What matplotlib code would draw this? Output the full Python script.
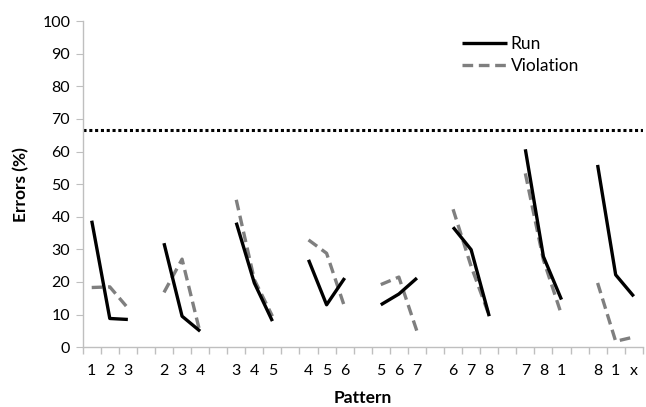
import numpy as np
import matplotlib.pyplot as plt
from matplotlib.ticker import FixedLocator

plt.rcParams['font.family'] = ['Lato', 'DejaVu Sans']

# patterns shown as groups of three positions
grupos = [['1', '2', '3'], ['2', '3', '4'], ['3', '4', '5'], ['4', '5', '6'],
          ['5', '6', '7'], ['6', '7', '8'], ['7', '8', '1'], ['8', '1', 'x']]

run = [[38.8, 8.8, 8.5], [31.9, 9.5, 4.9], [38.2, 19.7, 8.0], [26.8, 13.0, 21.2],
       [13.0, 16.3, 21.2], [36.8, 29.9, 9.5], [60.7, 27.8, 14.6], [55.9, 22.2, 15.6]]

violacion = [[18.3, 18.5, 12.0], [16.8, 27.0, 4.4], [45.2, 20.7, 9.5], [32.9, 28.8, 12.3],
             [19.2, 21.5, 4.9], [42.3, 24.8, 9.7], [53.3, 26.8, 10.0], [19.7, 1.8, 3.1]]

azar = 66.7

fig = plt.figure(figsize=(6.46, 4.07), dpi=100)
ax = fig.add_axes([0.128, 0.147, 0.867, 0.801])

gris = '#7f7f7f'
posiciones, etiquetas = [], []
for g in range(len(grupos)):
    x = np.arange(3) + 4 * g + 0.5
    posiciones.extend(x)
    etiquetas.extend(grupos[g])
    ax.plot(x, run[g], color='black', lw=2.4, solid_capstyle='butt',
            label='Run' if g == 0 else None, zorder=3)
    ax.plot(x, violacion[g], color=gris, lw=2.4, ls=(0, (3.2, 1.7)),
            label='Violation' if g == 0 else None, zorder=2)

n_slots = 4 * len(grupos) - 1
ax.axhline(azar, color='black', lw=2.2, ls=(0, (1, 0.9)), zorder=1)

ax.set_xlim(0, n_slots)
ax.set_ylim(0, 100)
ax.set_yticks(np.arange(0, 101, 10))
ax.set_xticks(posiciones)
ax.set_xticklabels(etiquetas, fontsize=11.5)
ax.xaxis.set_minor_locator(FixedLocator(np.arange(0, n_slots + 1)))
ax.tick_params(axis='x', which='major', length=0, pad=12)
ax.tick_params(axis='x', which='minor', length=5, color='#bfbfbf', width=1)
ax.tick_params(axis='y', length=5, color='#bfbfbf', labelsize=11.5, pad=4)

for lado in ['top', 'right']:
    ax.spines[lado].set_visible(False)
for lado in ['left', 'bottom']:
    ax.spines[lado].set_color('#bfbfbf')
    ax.spines[lado].set_linewidth(1)

ax.set_ylabel('Errors (%)', fontsize=12.5, fontweight='bold', labelpad=9)
ax.set_xlabel('Pattern', fontsize=12.5, fontweight='bold', labelpad=9)

ax.legend(loc='upper left', bbox_to_anchor=(0.665, 0.975), frameon=False,
          fontsize=12.5, handlelength=2.6, handletextpad=0.2, labelspacing=0.35,
          borderaxespad=0)

fig.savefig('out.png', dpi=100)
